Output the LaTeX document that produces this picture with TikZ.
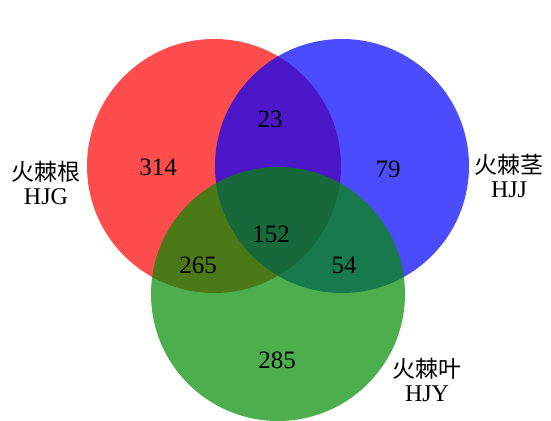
\documentclass[tikz,border=0pt]{standalone}
\usepackage{fontspec}
\setmainfont{Liberation Serif}
\newfontfamily\cjk{Noto Sans CJK SC}
\usetikzlibrary{positioning}
\definecolor{vennred}{RGB}{255,0,0}
\definecolor{vennblue}{RGB}{0,0,255}
\definecolor{venngreen}{RGB}{0,140,0}

\begin{document}
\begin{tikzpicture}[x=1pt,y=-1pt,
  set/.style={
    circle,
    minimum size=254pt,
    inner sep=0pt,
    fill opacity=.7},
  count/.style={font=\fontsize{25}{28}\selectfont},
  setname/.style={align=center, inner sep=0pt,
    font=\fontsize{24}{24}\selectfont},
  ]

  \useasboundingbox (0,0) rectangle (551,420);
  \clip (0,0) rectangle (551,420);

  % the three sets
  \node (HJG) [set, fill=vennred] at (214,166) {};
  \node (HJJ) [set, fill=vennblue] at (342,166) {};
  \node (HJY) [set, fill=venngreen] at (278,294) {};

  % counts
  \node (onlyG) [count] at (158,167) {314};
  \node (onlyJ) [count] at (388,169) {79};
  \node (onlyY) [count] at (277,360) {285};
  \node (GJ) [count] at (270,119) {23};
  \node (GY) [count] at (198,265) {265};
  \node (JY) [count] at (344,265) {54};
  \node (GJY) [count] at (271,234) {152};

  % set names
  \node (nameG) [setname] at (46,183) {{\cjk\fontsize{23}{24}\selectfont 火棘根}\\HJG};
  \node (nameJ) [setname] at (509,176) {{\cjk\fontsize{23}{24}\selectfont 火棘茎}\\HJJ};
  \node (nameY) [setname] at (427,380) {{\cjk\fontsize{23}{24}\selectfont 火棘叶}\\HJY};

\end{tikzpicture}
\end{document}
